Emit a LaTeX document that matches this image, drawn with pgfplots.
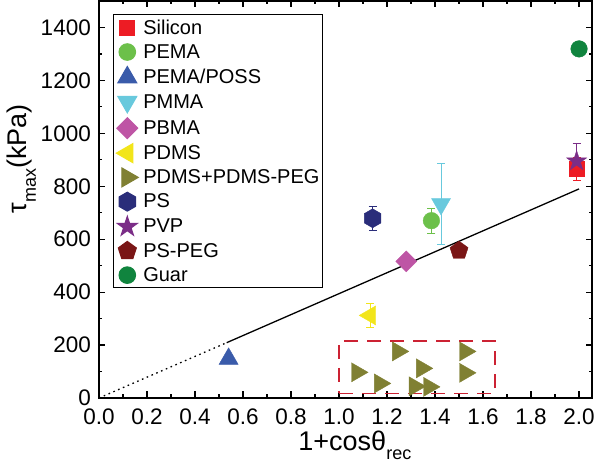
\documentclass[border=0pt]{standalone}
\usepackage{fontspec}
\setmainfont{Liberation Sans}
\usepackage{pgfplots}
\pgfplotsset{compat=1.18}

\definecolor{csil}{HTML}{ED1C24}
\definecolor{cpema}{HTML}{6CC04A}
\definecolor{cposs}{HTML}{3A5BAA}
\definecolor{cpmma}{HTML}{68C9DD}
\definecolor{cpbma}{HTML}{BE55A5}
\definecolor{cpdms}{HTML}{F2E51A}
\definecolor{cpeg}{HTML}{808033}
\definecolor{cps}{HTML}{2A2D7A}
\definecolor{cpvp}{HTML}{7B2D87}
\definecolor{cpspeg}{HTML}{7A1616}
\definecolor{cguar}{HTML}{10843E}
\definecolor{cbox}{HTML}{CC2233}

\pgfdeclareplotmark{hexagon*}{%
  \pgfpathmoveto{\pgfqpoint{0pt}{\pgfplotmarksize}}%
  \pgfpathlineto{\pgfqpoint{-0.866\pgfplotmarksize}{0.5\pgfplotmarksize}}%
  \pgfpathlineto{\pgfqpoint{-0.866\pgfplotmarksize}{-0.5\pgfplotmarksize}}%
  \pgfpathlineto{\pgfqpoint{0pt}{-\pgfplotmarksize}}%
  \pgfpathlineto{\pgfqpoint{0.866\pgfplotmarksize}{-0.5\pgfplotmarksize}}%
  \pgfpathlineto{\pgfqpoint{0.866\pgfplotmarksize}{0.5\pgfplotmarksize}}%
  \pgfpathclose
  \pgfusepathqfillstroke}

\pgfdeclareplotmark{fstar*}{%
  \pgfpathmoveto{\pgfqpoint{0pt}{\pgfplotmarksize}}%
  \pgfpathlineto{\pgfqpoint{-0.2245\pgfplotmarksize}{0.309\pgfplotmarksize}}%
  \pgfpathlineto{\pgfqpoint{-0.9511\pgfplotmarksize}{0.309\pgfplotmarksize}}%
  \pgfpathlineto{\pgfqpoint{-0.3633\pgfplotmarksize}{-0.118\pgfplotmarksize}}%
  \pgfpathlineto{\pgfqpoint{-0.5878\pgfplotmarksize}{-0.809\pgfplotmarksize}}%
  \pgfpathlineto{\pgfqpoint{0pt}{-0.382\pgfplotmarksize}}%
  \pgfpathlineto{\pgfqpoint{0.5878\pgfplotmarksize}{-0.809\pgfplotmarksize}}%
  \pgfpathlineto{\pgfqpoint{0.3633\pgfplotmarksize}{-0.118\pgfplotmarksize}}%
  \pgfpathlineto{\pgfqpoint{0.9511\pgfplotmarksize}{0.309\pgfplotmarksize}}%
  \pgfpathlineto{\pgfqpoint{0.2245\pgfplotmarksize}{0.309\pgfplotmarksize}}%
  \pgfpathclose
  \pgfusepathqfillstroke}

\newcommand\lsub[1]{\raisebox{-0.36em}{\fontsize{18}{18}\selectfont #1}}

\begin{document}
\begin{tikzpicture}
\begin{axis}[
  name=ax,
  scale only axis,
  width=493pt, height=397pt,
  xmin=0, xmax=2.054, ymin=0, ymax=1500,
  axis line style={line width=1.4pt},
  every tick/.style={line width=1.2pt, black},
  major tick length=6.5pt, minor tick length=3.5pt,
  xtick={0,0.2,0.4,0.6,0.8,1.0,1.2,1.4,1.6,1.8,2.0},
  ytick={0,200,400,600,800,1000,1200,1400},
  yticklabels={{0\hspace{11pt}},200,400,600,800,1000,1200,1400},
  minor x tick num=1, minor y tick num=1,
  /pgf/number format/assume math mode=true,
  tick label style={font=\fontsize{22.5}{25}\selectfont},
  xticklabel style={inner sep=0pt, yshift=-11pt, /pgf/number format/fixed, /pgf/number format/fixed zerofill, /pgf/number format/precision=1},
  yticklabel style={inner sep=0pt, xshift=-8pt},
  xlabel={1+cosθ\lsub{rec}},
  ylabel={τ\lsub{max}(kPa)},
  label style={font=\fontsize{27}{30}\selectfont},
  xlabel style={at={(axis description cs:0.519,-0.131)}, anchor=base, inner sep=0pt},
  ylabel style={at={(axis description cs:-0.148,0.603)}, anchor=base, inner sep=0pt},
  legend style={at={(axis description cs:0.028,0.967)}, anchor=north west,
    draw=black, line width=1pt, font=\fontsize{20}{22}\selectfont,
    inner xsep=3pt, inner ysep=3pt, row sep=4.8pt, column sep=5pt,
    nodes={inner xsep=0pt, inner ysep=2pt}},
  legend cell align=left,
  legend image code/.code={\draw[mark repeat=2,mark phase=2,#1] plot coordinates {(0pt,0pt)(12pt,0pt)(24pt,0pt)};},
]
% fitted line
\addplot[black, line width=1.3pt, dash pattern=on 1.6pt off 3.6pt, forget plot] coordinates {(0,0) (0.532,209)};
\addplot[black, line width=1.3pt, forget plot] coordinates {(0.532,209) (2.0,790)};
% dashed box
\addplot[cbox, line width=1.4pt, dash pattern=on 14pt off 9pt, forget plot] coordinates {(1.0,18) (1.65,18) (1.65,215) (1.0,215) (1.0,18)};

\addplot[only marks, mark=square*, mark size=7.5pt, color=csil,
  error bars/.cd, y dir=both, y explicit, error bar style={csil, line width=1pt}, error mark options={rotate=90, csil, mark size=4pt, line width=1pt}]
  coordinates {(1.99,865) +- (0,42)};
\addlegendentry{Silicon}
\addplot[only marks, mark=*, mark size=8.3pt, color=cpema,
  error bars/.cd, y dir=both, y explicit, error bar style={cpema, line width=1pt}, error mark options={rotate=90, cpema, mark size=4pt, line width=1pt}]
  coordinates {(1.385,670) +- (0,47)};
\addlegendentry{PEMA}
\addplot[only marks, mark=triangle*, mark size=11pt, color=cposs]
  coordinates {(0.54,148)};
\addlegendentry{PEMA/POSS}
\addplot[only marks, mark=triangle*, mark size=11pt, mark options={rotate=180}, color=cpmma,
  error bars/.cd, y dir=both, y explicit, error bar style={cpmma, line width=1pt}, error mark options={rotate=90, cpmma, mark size=4pt, line width=1pt}]
  coordinates {(1.425,733) +- (0,154)};
\addlegendentry{PMMA}
\addplot[only marks, mark=square*, mark size=7.4pt, mark options={rotate=45}, color=cpbma]
  coordinates {(1.28,516)};
\addlegendentry{PBMA}
\addplot[only marks, mark=triangle*, mark size=11pt, mark options={rotate=90}, color=cpdms,
  error bars/.cd, y dir=both, y explicit, error bar style={cpdms, line width=1pt}, error mark options={rotate=90, cpdms, mark size=4pt, line width=1pt}]
  coordinates {(1.13,312) +- (0,45)};
\addlegendentry{PDMS}
\addplot[only marks, mark=triangle*, mark size=11pt, mark options={rotate=-90}, color=cpeg]
  coordinates {(1.075,97) (1.17,55) (1.245,176) (1.345,112) (1.315,44) (1.375,42) (1.525,176) (1.525,95)};
\addlegendentry{PDMS+PDMS-PEG}
\addplot[only marks, mark=hexagon*, mark size=9.5pt, color=cps,
  error bars/.cd, y dir=both, y explicit, error bar style={cps, line width=1pt}, error mark options={rotate=90, cps, mark size=4pt, line width=1pt}]
  coordinates {(1.14,679) +- (0,45)};
\addlegendentry{PS}
\addplot[only marks, mark=fstar*, mark size=10.5pt, color=cpvp,
  error bars/.cd, y dir=both, y explicit, error bar style={cpvp, line width=1pt}, error mark options={rotate=90, cpvp, mark size=4pt, line width=1pt}]
  coordinates {(1.99,895) += (0,67) -= (0,55)};
\addlegendentry{PVP}
\addplot[only marks, mark=pentagon*, mark size=9.5pt, color=cpspeg]
  coordinates {(1.50,557)};
\addlegendentry{PS-PEG}
\addplot[only marks, mark=*, mark size=8.3pt, color=cguar]
  coordinates {(2.0,1319)};
\addlegendentry{Guar}
\end{axis}
\pgfresetboundingbox
\path ([xshift=-99pt,yshift=-67pt]ax.south west) rectangle ([xshift=8pt,yshift=1pt]ax.north east);
\end{tikzpicture}
\end{document}
